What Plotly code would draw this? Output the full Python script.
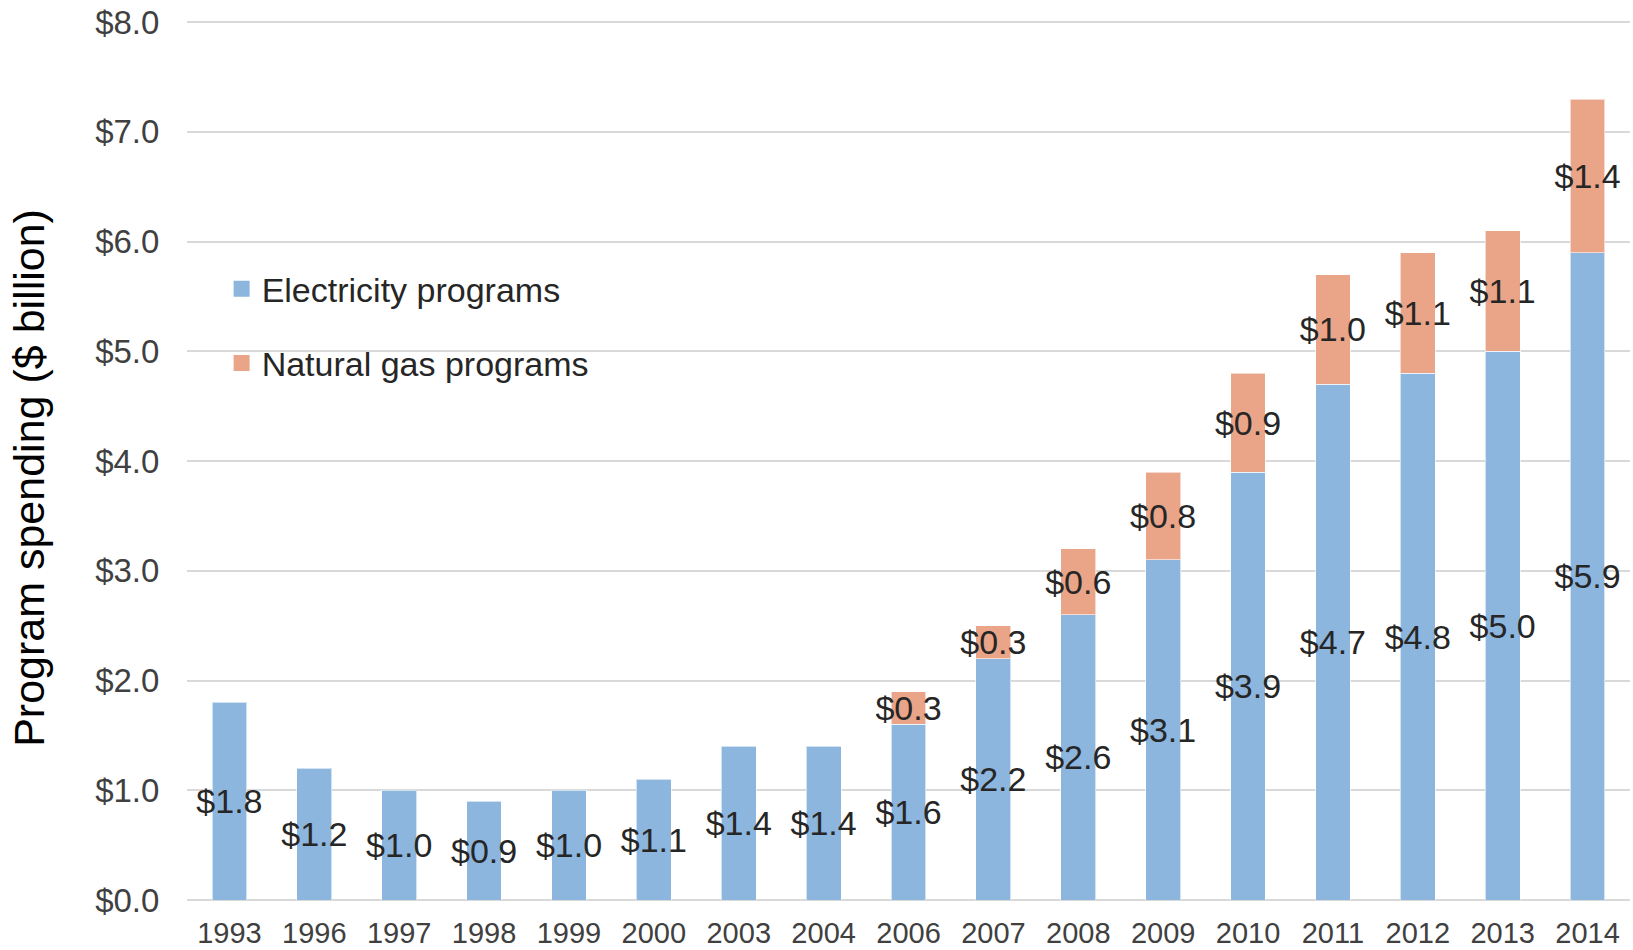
import plotly.graph_objects as go

years = ["1993", "1996", "1997", "1998", "1999", "2000", "2003", "2004", "2006",
         "2007", "2008", "2009", "2010", "2011", "2012", "2013", "2014"]
electricity = [1.8, 1.2, 1.0, 0.9, 1.0, 1.1, 1.4, 1.4, 1.6,
               2.2, 2.6, 3.1, 3.9, 4.7, 4.8, 5.0, 5.9]
natural_gas = [None, None, None, None, None, None, None, None, 0.3,
               0.3, 0.6, 0.8, 0.9, 1.0, 1.1, 1.1, 1.4]
y_ticks = [0, 1, 2, 3, 4, 5, 6, 7, 8]
y_tick_labels = ["$0.0", "$1.0", "$2.0", "$3.0", "$4.0", "$5.0", "$6.0", "$7.0", "$8.0"]
series_names = ["Electricity programs", "Natural gas programs"]

FONT = "Liberation Sans, Arial, sans-serif"
BLUE = "#8DB6DF"
SALMON = "#EAA488"

def labels(vals):
    return ["" if v is None else f"${v:.1f}" for v in vals]

fig = go.Figure()
for name, vals, color, grp in [(series_names[0], electricity, BLUE, "e"),
                               (series_names[1], natural_gas, SALMON, "g")]:
    fig.add_trace(go.Bar(
        x=years, y=vals, name=name, showlegend=False,
        marker=dict(color=color, line=dict(color="rgba(255,255,255,0.6)", width=1)),
        text=labels(vals), textposition="inside", insidetextanchor="middle",
        textangle=0, constraintext="none",
        insidetextfont=dict(family=FONT, size=34, color="#262626"),
        legendgroup=grp,
    ))

# legend entries with larger square swatches
for name, color, grp in [(series_names[0], BLUE, "e"), (series_names[1], SALMON, "g")]:
    fig.add_trace(go.Scatter(
        x=[None], y=[None], mode="markers", name=name, legendgroup=grp,
        marker=dict(symbol="square", size=16, color=color),
        hoverinfo="skip",
    ))

fig.update_layout(
    barmode="stack",
    bargap=0.59,
    width=1633, height=950,
    margin=dict(l=187, r=3, t=20, b=50, autoexpand=False),
    plot_bgcolor="white", paper_bgcolor="white",
    font=dict(family=FONT, color="#404040"),
    legend=dict(
        x=0.024, y=0.727, xanchor="left", yanchor="top",
        font=dict(family=FONT, size=34, color="#262626"),
        bgcolor="rgba(0,0,0,0)", tracegroupgap=27, traceorder="grouped",
    ),
    showlegend=True,
    annotations=[dict(
        text="Program spending ($ billion)", textangle=-90,
        xref="paper", yref="paper", x=-0.11, y=0.48,
        xanchor="center", yanchor="middle", showarrow=False,
        font=dict(family=FONT, size=43, color="#000000"),
    )],
)
fig.update_xaxes(
    type="category", showgrid=False, showline=False, zeroline=False,
    automargin=False,
    tickfont=dict(family=FONT, size=29, color="#404040"),
    ticks="outside", ticklen=7, tickcolor="rgba(0,0,0,0)",
)
fig.update_yaxes(
    range=[0, 8.02], tickvals=y_ticks, ticktext=y_tick_labels,
    showgrid=True, gridcolor="#D9D9D9", gridwidth=1.5,
    zeroline=True, zerolinecolor="#D9D9D9", zerolinewidth=1.5,
    showline=False, automargin=False,
    tickfont=dict(family=FONT, size=33, color="#404040"),
    ticks="outside", ticklen=20, tickcolor="rgba(0,0,0,0)",
)

fig.write_html("out.html", config={"displayModeBar": False},
               post_script="document.body.style.margin='0';")
